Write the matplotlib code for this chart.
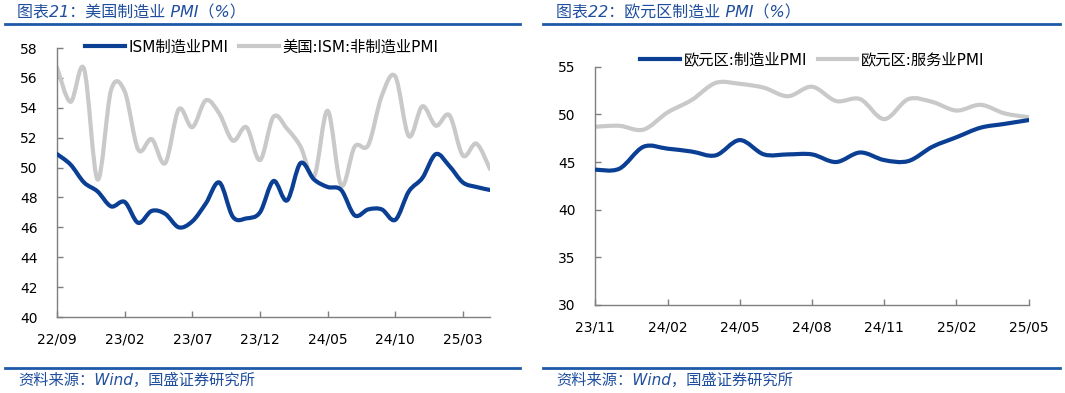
import matplotlib
matplotlib.use("Agg")
import matplotlib.pyplot as plt
from matplotlib.path import Path
from matplotlib.patches import PathPatch
from matplotlib.lines import Line2D
import numpy as np

plt.rcParams['font.family'] = ['DejaVu Sans', 'Noto Sans CJK SC']

# ---------------- data ----------------
us_months = ["22/09", "22/10", "22/11", "22/12", "23/01", "23/02", "23/03", "23/04", "23/05",
             "23/06", "23/07", "23/08", "23/09", "23/10", "23/11", "23/12", "24/01", "24/02",
             "24/03", "24/04", "24/05", "24/06", "24/07", "24/08", "24/09", "24/10", "24/11",
             "24/12", "25/01", "25/02", "25/03", "25/04", "25/05"]
ism_mfg = [50.9, 50.2, 49.0, 48.4, 47.4, 47.7, 46.3, 47.1, 46.9, 46.0, 46.4, 47.6, 49.0,
           46.7, 46.6, 47.0, 49.1, 47.8, 50.3, 49.2, 48.7, 48.5, 46.8, 47.2, 47.2, 46.5,
           48.4, 49.3, 50.9, 50.1, 49.0, 48.7, 48.5]
ism_srv = [56.7, 54.4, 56.6, 49.2, 55.2, 55.1, 51.2, 51.9, 50.3, 53.9, 52.7, 54.5, 53.6,
           51.8, 52.7, 50.5, 53.4, 52.6, 51.4, 49.4, 53.8, 48.8, 51.4, 51.5, 54.8, 56.1,
           52.1, 54.1, 52.8, 53.5, 50.8, 51.6, 49.9]
us_tick_labels = ["22/09", "23/02", "23/07", "23/12", "24/05", "24/10", "25/03"]

ez_months = ["23/11", "23/12", "24/01", "24/02", "24/03", "24/04", "24/05", "24/06", "24/07",
             "24/08", "24/09", "24/10", "24/11", "24/12", "25/01", "25/02", "25/03", "25/04",
             "25/05"]
ez_mfg = [44.2, 44.3, 46.6, 46.4, 46.1, 45.7, 47.3, 45.8, 45.8, 45.8, 45.0, 46.0, 45.2,
          45.1, 46.6, 47.6, 48.6, 49.0, 49.4]
ez_srv = [48.7, 48.8, 48.4, 50.2, 51.5, 53.3, 53.2, 52.8, 51.9, 52.9, 51.4, 51.6, 49.5,
          51.6, 51.3, 50.4, 51.0, 50.1, 49.7]
ez_tick_labels = ["23/11", "24/02", "24/05", "24/08", "24/11", "25/02", "25/05"]

BLUE = "#0A3F94"
GRAY = "#C9C9C9"
TITLE_BLUE = "#1F4E9E"
SPINE = "#7F7F7F"
LW = 3.0
W, H = 1065, 393


def smooth_path(x, y):
    """Excel-like smoothed line as cubic Bezier path through the data points."""
    x = np.asarray(x, float)
    y = np.asarray(y, float)
    n = len(x)
    verts = [(x[0], y[0])]
    codes = [Path.MOVETO]
    for i in range(n - 1):
        p0 = (x[i - 1], y[i - 1]) if i > 0 else (x[i], y[i])
        p1 = (x[i], y[i])
        p2 = (x[i + 1], y[i + 1])
        p3 = (x[i + 2], y[i + 2]) if i + 2 < n else (x[i + 1], y[i + 1])
        c1 = (p1[0] + (p2[0] - p0[0]) / 6, p1[1] + (p2[1] - p0[1]) / 6)
        c2 = (p2[0] - (p3[0] - p1[0]) / 6, p2[1] - (p3[1] - p1[1]) / 6)
        verts += [c1, c2, p2]
        codes += [Path.CURVE4] * 3
    return Path(verts, codes)


def draw_series(ax, x, y, color, z):
    ax.add_patch(PathPatch(smooth_path(x, y), fill=False, edgecolor=color, lw=LW,
                           capstyle='round', joinstyle='round', zorder=z))


def style_axes(ax):
    for s in ["top", "right"]:
        ax.spines[s].set_visible(False)
    for s in ["left", "bottom"]:
        ax.spines[s].set_color(SPINE)
        ax.spines[s].set_linewidth(1.0)
    ax.tick_params(axis='both', direction='in', length=4, width=1.0, color=SPINE,
                   labelsize=10, labelcolor="black")
    ax.tick_params(axis='x', pad=11)
    ax.tick_params(axis='y', pad=14)


def add_legend(ax, labels, x_px, y_px):
    handles = [Line2D([], [], color=BLUE, lw=LW), Line2D([], [], color=GRAY, lw=LW)]
    ax.legend(handles, labels, loc='center left', bbox_to_anchor=(x_px / W, 1 - y_px / H),
              bbox_transform=fig.transFigure, ncol=2, frameon=False, fontsize=11,
              handlelength=2.6, handletextpad=0.25, columnspacing=0.7,
              borderpad=0, borderaxespad=0)


fig = plt.figure(figsize=(W / 100, H / 100), dpi=100)

# ---------- left chart ----------
ax1 = fig.add_axes([57 / W, 1 - 317 / H, 433 / W, 269 / H])
xu = np.arange(len(us_months))
draw_series(ax1, xu, ism_srv, GRAY, 2)
draw_series(ax1, xu, ism_mfg, BLUE, 3)
ax1.set_xlim(0, len(us_months) - 1)
ax1.set_ylim(40, 58)
ax1.set_yticks(np.arange(40, 59, 2))
ax1.set_xticks([us_months.index(m) for m in us_tick_labels])
ax1.set_xticklabels(us_tick_labels)
style_axes(ax1)
add_legend(ax1, ["ISM制造业PMI", "美国:ISM:非制造业PMI"], 85, 47)

# ---------- right chart ----------
ax2 = fig.add_axes([595.3 / W, 1 - 305 / H, 433.4 / W, 238.3 / H])
xe = np.arange(len(ez_months))
draw_series(ax2, xe, ez_srv, GRAY, 2)
draw_series(ax2, xe, ez_mfg, BLUE, 3)
ax2.set_xlim(0, len(ez_months) - 1)
ax2.set_ylim(30, 55)
ax2.set_yticks(np.arange(30, 56, 5))
ax2.set_xticks([ez_months.index(m) for m in ez_tick_labels])
ax2.set_xticklabels(ez_tick_labels)
style_axes(ax2)
add_legend(ax2, ["欧元区:制造业PMI", "欧元区:服务业PMI"], 640, 59.5)

# ---------- titles, rules, footers ----------
fig.text(17 / W, 1 - 13 / H, "图表21：美国制造业 PMI（%）", color=TITLE_BLUE,
         fontsize=11.5, va='center', ha='left', style='italic')
fig.text(556 / W, 1 - 13 / H, "图表22：欧元区制造业 PMI（%）", color=TITLE_BLUE,
         fontsize=11.5, va='center', ha='left', style='italic')
for (xa, xb) in [(5, 520), (543, 1060)]:
    for yy in (24, 368):
        fig.add_artist(Line2D([xa / W, xb / W], [1 - yy / H, 1 - yy / H],
                              color="#1F5AA8", lw=2.0))
fig.text(18 / W, 1 - 380 / H, "资料来源：Wind，国盛证券研究所", color=TITLE_BLUE,
         fontsize=11, va='center', ha='left', style='italic')
fig.text(556 / W, 1 - 380 / H, "资料来源：Wind，国盛证券研究所", color=TITLE_BLUE,
         fontsize=11, va='center', ha='left', style='italic')

fig.savefig("out.png", dpi=100)
